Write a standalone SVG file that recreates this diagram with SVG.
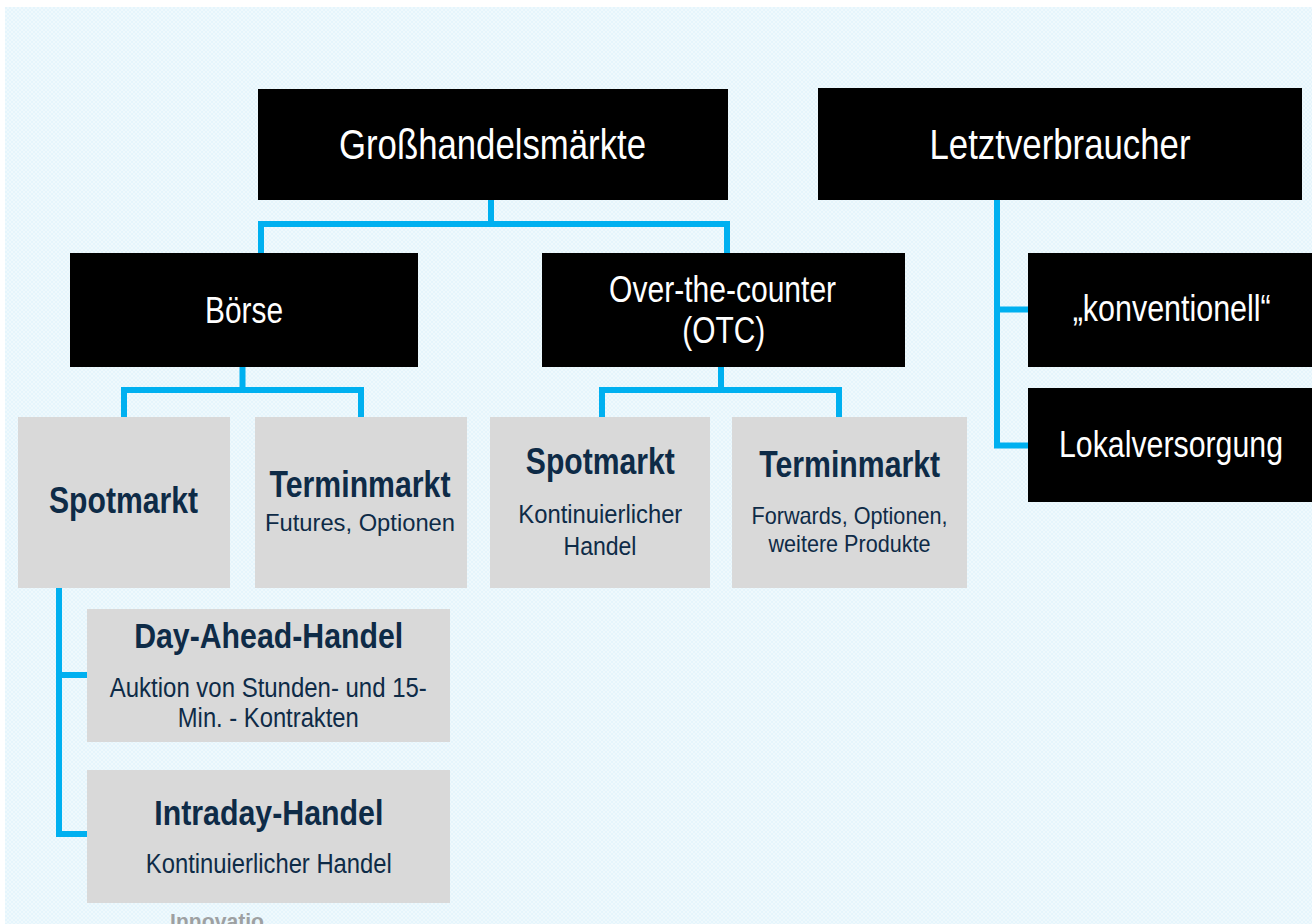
<svg xmlns="http://www.w3.org/2000/svg" width="1312" height="924" viewBox="0 0 1312 924">
<defs>
<pattern id="bgp" width="4" height="4" patternUnits="userSpaceOnUse">
<rect width="4" height="4" fill="#e5f5fc"/>
<path d="M0 0 L4 4 M4 0 L0 4" stroke="#ffffff" stroke-width="0.7" opacity="0.55"/>
</pattern>
<style>
.blk{fill:#000000}
.gry{fill:#d9d9d9}
.wt{font-family:"Liberation Sans Narrow","Arial Narrow","Liberation Sans",Arial,sans-serif;fill:#ffffff;text-anchor:middle}
.tt{font-family:"Liberation Sans Narrow","Arial Narrow","Liberation Sans",Arial,sans-serif;fill:#0e2b47;font-weight:bold;text-anchor:middle}
.st{font-family:"Liberation Sans Narrow","Arial Narrow","Liberation Sans",Arial,sans-serif;fill:#0e2b47;text-anchor:middle}
.con{fill:none;stroke:#00b0f0;stroke-width:6;stroke-linejoin:miter;stroke-linecap:butt}
</style>
</defs>
<rect x="0" y="0" width="1312" height="924" fill="#ffffff"/>
<rect x="5" y="7" width="1307" height="917" fill="url(#bgp)"/>

<g id="connectors">
<path class="con" d="M491 200 V224 M261 253 V224 H727 V253"/>
<path class="con" d="M242.5 367 V390 M124 417 V390 H361 V417"/>
<path class="con" d="M721 367 V390 M602 417 V390 H839 V417"/>
<path class="con" d="M59 588 V834 H87 M59 675 H87"/>
<path class="con" d="M997 200 V445.5 H1028 M997 309.5 H1028"/>
</g>

<g id="grosshandel">
<rect class="blk" x="258" y="89" width="470" height="111"/>
<text class="wt" x="492.5" y="159" font-size="43" textLength="307" lengthAdjust="spacingAndGlyphs">Großhandelsmärkte</text>
</g>
<g id="letztverbraucher">
<rect class="blk" x="818" y="88" width="484" height="112"/>
<text class="wt" x="1060" y="158.5" font-size="43" textLength="261" lengthAdjust="spacingAndGlyphs">Letztverbraucher</text>
</g>
<g id="boerse">
<rect class="blk" x="70" y="253" width="348" height="114"/>
<text class="wt" x="244" y="323" font-size="37" textLength="78" lengthAdjust="spacingAndGlyphs">Börse</text>
</g>
<g id="otc">
<rect class="blk" x="542" y="253" width="363" height="114"/>
<text class="wt" x="722.6" y="302" font-size="37" textLength="227" lengthAdjust="spacingAndGlyphs">Over-the-counter</text>
<text class="wt" x="723.7" y="343" font-size="37" textLength="83" lengthAdjust="spacingAndGlyphs">(OTC)</text>
</g>
<g id="konventionell">
<rect class="blk" x="1028" y="253" width="290" height="114"/>
<text class="wt" x="1171.7" y="321" font-size="37" textLength="198" lengthAdjust="spacingAndGlyphs">„konventionell“</text>
</g>
<g id="lokalversorgung">
<rect class="blk" x="1028" y="388" width="290" height="114"/>
<text class="wt" x="1171" y="456.7" font-size="37" textLength="224" lengthAdjust="spacingAndGlyphs">Lokalversorgung</text>
</g>

<g id="spotmarkt-boerse">
<rect class="gry" x="18" y="417" width="212" height="171"/>
<text class="tt" x="123.5" y="513" font-size="36" textLength="149" lengthAdjust="spacingAndGlyphs">Spotmarkt</text>
</g>
<g id="terminmarkt-boerse">
<rect class="gry" x="255" y="417" width="212" height="171"/>
<text class="tt" x="360" y="497" font-size="36" textLength="181" lengthAdjust="spacingAndGlyphs">Terminmarkt</text>
<text class="st" x="360" y="531" font-size="24" textLength="190" lengthAdjust="spacingAndGlyphs">Futures, Optionen</text>
</g>
<g id="spotmarkt-otc">
<rect class="gry" x="490" y="417" width="220" height="171"/>
<text class="tt" x="600.3" y="474" font-size="36" textLength="149" lengthAdjust="spacingAndGlyphs">Spotmarkt</text>
<text class="st" x="600.3" y="523.3" font-size="25" textLength="164" lengthAdjust="spacingAndGlyphs">Kontinuierlicher</text>
<text class="st" x="600" y="555" font-size="25" textLength="73" lengthAdjust="spacingAndGlyphs">Handel</text>
</g>
<g id="terminmarkt-otc">
<rect class="gry" x="732" y="417" width="235" height="171"/>
<text class="tt" x="849.7" y="477.3" font-size="36" textLength="181" lengthAdjust="spacingAndGlyphs">Terminmarkt</text>
<text class="st" x="849.5" y="524" font-size="24" textLength="196" lengthAdjust="spacingAndGlyphs">Forwards, Optionen,</text>
<text class="st" x="849.5" y="551.7" font-size="24" textLength="162" lengthAdjust="spacingAndGlyphs">weitere Produkte</text>
</g>
<g id="day-ahead">
<rect class="gry" x="87" y="609" width="363" height="133"/>
<text class="tt" x="268.7" y="647.7" font-size="35" textLength="269" lengthAdjust="spacingAndGlyphs">Day-Ahead-Handel</text>
<text class="st" x="268.3" y="696.7" font-size="27" textLength="317" lengthAdjust="spacingAndGlyphs">Auktion von Stunden- und 15-</text>
<text class="st" x="268.3" y="726.7" font-size="27" textLength="181" lengthAdjust="spacingAndGlyphs">Min. - Kontrakten</text>
</g>
<g id="intraday">
<rect class="gry" x="87" y="770" width="363" height="133"/>
<text class="tt" x="268.8" y="825" font-size="35" textLength="229" lengthAdjust="spacingAndGlyphs">Intraday-Handel</text>
<text class="st" x="268.8" y="873.3" font-size="27" textLength="246" lengthAdjust="spacingAndGlyphs">Kontinuierlicher Handel</text>
</g>

<text x="217" y="929" font-family="Liberation Sans, Arial, sans-serif" font-size="22" font-weight="bold" fill="#8c8c8c" text-anchor="middle" textLength="94" lengthAdjust="spacingAndGlyphs" opacity="0.8">Innovatio</text>
</svg>
